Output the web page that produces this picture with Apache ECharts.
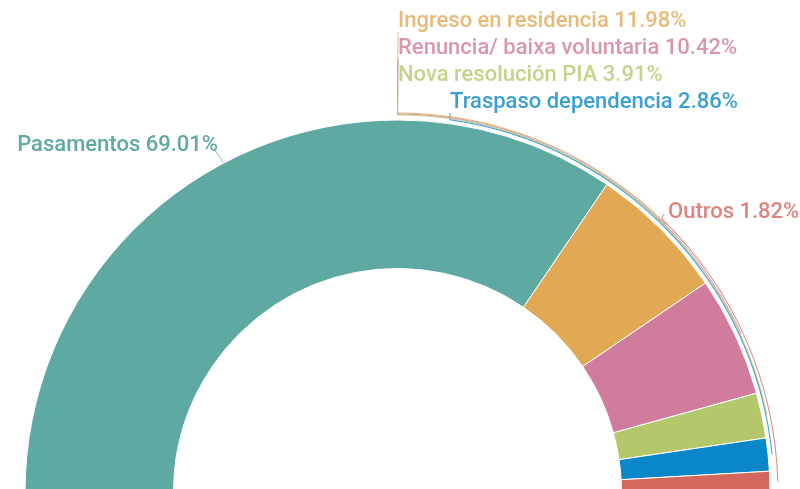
<!DOCTYPE html>
<html><head><meta charset="utf-8">
<script src="https://cdn.jsdelivr.net/npm/echarts@6/dist/echarts.min.js"></script>
<style>html,body{margin:0;padding:0;background:#fff}#c{width:800px;height:489px}</style>
</head><body><div id="c"></div>
<script>
const categories = ['Pasamentos','Ingreso en residencia','Renuncia/ baixa voluntaria','Nova resolución PIA','Traspaso dependencia','Outros'];
const values = [69.01, 11.98, 10.42, 3.91, 2.86, 1.82];
const colors = ['#5fa9a3','#e2a955','#d17c9c','#b4c86b','#0a87c9','#d4675d'];

const CX = 397.5, CY = 492.5, R0 = 224, R1 = 372.5;
const total = values.reduce((a,b)=>a+b,0);
const angleAt = pct => 180 - 180 * pct / total;
const cum = []; values.reduce((s,v,i)=>{cum[i]=s; return s+v;},0);
const midAngle = i => angleAt(cum[i] + values[i]/2);
const fmt = i => categories[i] + ' ' + values[i].toFixed(2) + '%';
const polar = (r, a) => [CX + r*Math.cos(a*Math.PI/180), CY - r*Math.sin(a*Math.PI/180)];

const FS = 22;
const labelPos = {
  0:{x:218, y:145, align:'right'},
  1:{x:398, y:21, align:'left'},
  2:{x:398, y:48, align:'left'},
  3:{x:398, y:75, align:'left'},
  4:{x:450, y:102, align:'left'},
  5:{x:668, y:212, align:'left'}
};
const guideArcs = [
  {i:1, start:90, r:379.5},
  {i:2, start:90, r:378.5},
  {i:3, start:90, r:377.5},
  {i:4, start:Math.acos((450-CX)/376.5)*180/Math.PI, r:376.5},
  {i:5, start:46, r:380.5}
];
const textStyle = {fontFamily:'Roboto', fontSize:FS, fontWeight:500};

const series = [{
  type:'pie', center:[CX, CY], radius:[R0, R1], startAngle:180, endAngle:0, clockwise:true,
  avoidLabelOverlap:false, silent:true,
  itemStyle:{borderColor:'#fff', borderWidth:1},
  label:{show:false},
  labelLine:{show:false},
  data: categories.map((n,i)=>({
    name:n, value:values[i], itemStyle:{color:colors[i]},
    label: i===0 ? Object.assign({show:true, position:'outside', formatter:fmt(0), color:colors[0]}, textStyle) : {show:false},
    labelLine: i===0 ? {show:true, length:8, length2:0, lineStyle:{color:'#8fb9b5', width:1}} : {show:false}
  })),
  labelLayout: p => {
    if (p.dataIndex!==0) return {};
    const a = midAngle(0);
    return {x:labelPos[0].x, y:labelPos[0].y, align:'right', verticalAlign:'middle',
      labelLinePoints:[polar(R1, a), polar(R1+6, a), [labelPos[0].x-4, labelPos[0].y+4]]};
  }
}];

guideArcs.forEach(g=>{
  const i = g.i;
  const lp = labelPos[i];
  const p0 = polar(g.r, g.start);
  const pEnd = i===5 ? [lp.x-4, lp.y+2] : [lp.x, lp.y + FS*0.5];
  series.push({
    type:'pie', center:[CX, CY], radius:[g.r-0.5, g.r+0.5], startAngle:g.start, endAngle:midAngle(i), clockwise:true,
    avoidLabelOverlap:false, silent:true, z:3,
    itemStyle:{color:colors[i], opacity:0.8},
    label:Object.assign({show:true, position:'outside', formatter:fmt(i), color:colors[i]}, textStyle),
    labelLine:{show:true, length:2, length2:0, lineStyle:{color:colors[i], width:1, opacity:0.8}},
    labelLayout: ()=>({x:lp.x, y:lp.y, align:lp.align, verticalAlign:'middle',
      labelLinePoints:[p0, [(p0[0]+pEnd[0])/2,(p0[1]+pEnd[1])/2], pEnd]}),
    data:[{name:categories[i], value:values[i]}]
  });
});

const chart = echarts.init(document.getElementById('c'), null, {renderer:'canvas'});
chart.setOption({animation:false, series});
</script></body></html>
